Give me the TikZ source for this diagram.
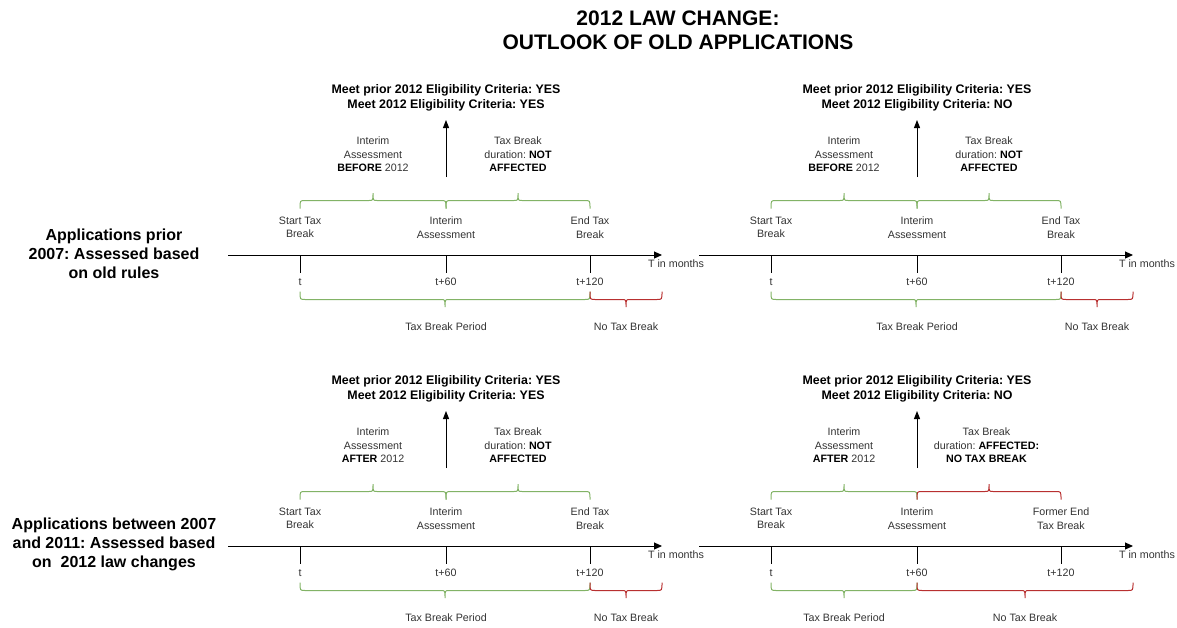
\documentclass[tikz,border=0pt]{standalone}
\usepackage{fontspec}
\setmainfont{Liberation Sans}
\usetikzlibrary{arrows.meta}
\frenchspacing
\definecolor{txt}{HTML}{333333}
\definecolor{bgreen}{HTML}{82B366}
\definecolor{bred}{HTML}{B83030}
\tikzset{
  lbl/.style={font=\fontsize{10.7}{13.4}\selectfont, text=txt, align=center, inner sep=0pt},
  head/.style={font=\fontsize{12.4}{15}\selectfont\bfseries, align=center, inner sep=0pt},
  side/.style={font=\fontsize{16}{19}\selectfont\bfseries, align=center, inner sep=0pt},
  ttl/.style={font=\fontsize{21}{24}\selectfont\bfseries, align=center, inner sep=0pt},
  axis/.style={line width=1pt, -{Triangle[length=8pt,width=7pt]}},
  tickline/.style={line width=1pt},
  upar/.style={line width=1pt, -{Triangle[length=8pt,width=6pt]}},
  gbr/.style={draw=bgreen, line width=1pt},
  rbr/.style={draw=bred, line width=1pt},
}
\newcommand\bk[1]{{\color{black}\bfseries #1}}
% style, x1, x2, yend, yflat, ytip
\newcommand\curly[6]{%
  \draw[#1] (#2,#4) .. controls (#2,#5) .. ({#2+5},#5) -- ({(#2+#3)/2-4},#5)
    .. controls ({(#2+#3)/2},#5) .. ({(#2+#3)/2},#6)
    .. controls ({(#2+#3)/2},#5) .. ({(#2+#3)/2+4},#5) -- ({#3-5},#5)
    .. controls (#3,#5) .. (#3,#4);}
\newcommand\basepanel[2]{%
  \coordinate (ax0) at (228,255);
  \coordinate (ax1) at (662,255);
  \draw[axis] (ax0) -- (ax1);
  \node[lbl] (unit) at (676,263.5) {T in months};
  \coordinate (k0) at (300,255); \coordinate (k0b) at (300,273);
  \coordinate (k1) at (446,255); \coordinate (k1b) at (446,273);
  \coordinate (k2) at (590,255); \coordinate (k2b) at (590,273);
  \draw[tickline] (k0) -- (k0b);
  \draw[tickline] (k1) -- (k1b);
  \draw[tickline] (k2) -- (k2b);
  \node[lbl] (kl0) at (300,282) {t};
  \node[lbl] (kl1) at (446,282) {t+60};
  \node[lbl] (kl2) at (590,282) {t+120};
  \node[lbl] (ev0) at (300,227.5) {Start Tax\\Break};
  \node[lbl] (ev1) at (446,227.5) {Interim\\Assessment};
  \node[lbl] (ev2) at (590,227.5) {#2};
  \coordinate (up0) at (446,177);
  \coordinate (up1) at (446,120);
  \draw[upar] (up0) -- (up1);
  \node[head] (hd) at (446,98) {Meet prior 2012 Eligibility Criteria: YES\\Meet 2012 Eligibility Criteria: #1};
}
\begin{document}
\begin{tikzpicture}[x=1pt,y=-1pt]
\path[use as bounding box] (0,0) rectangle (1177,627);
\node[ttl] (title) at (678,30) {2012 LAW CHANGE:\\OUTLOOK OF OLD APPLICATIONS};
\node[side] (row1) at (114,254) {Applications prior\\2007: Assessed based\\on old rules};
\node[side] (row2) at (114,544.5) {Applications between 2007\\and 2011: Assessed based\\on~ 2012 law changes};

% top left
\begin{scope}[name prefix=A-]
  \basepanel{YES}{End Tax\\Break}
  \curly{gbr}{300}{446}{208.5}{200.5}{193}
  \curly{gbr}{446}{590}{208.5}{200.5}{193}
  \curly{gbr}{300}{590}{291.5}{299.5}{307}
  \curly{rbr}{590}{662}{291.5}{299.5}{307}
  \node[lbl] (il) at (373,154.5) {Interim\\Assessment\\\bk{BEFORE} 2012};
  \node[lbl] (ir) at (518,154.5) {Tax Break\\duration: \bk{NOT}\\\bk{AFFECTED}};
  \node[lbl] (p1) at (446,327) {Tax Break Period};
  \node[lbl] (p2) at (626,327) {No Tax Break};
\end{scope}

% top right
\begin{scope}[shift={(471,0)}, name prefix=B-]
  \basepanel{NO}{End Tax\\Break}
  \curly{gbr}{300}{446}{208.5}{200.5}{193}
  \curly{gbr}{446}{590}{208.5}{200.5}{193}
  \curly{gbr}{300}{590}{291.5}{299.5}{307}
  \curly{rbr}{590}{662}{291.5}{299.5}{307}
  \node[lbl] (il) at (373,154.5) {Interim\\Assessment\\\bk{BEFORE} 2012};
  \node[lbl] (ir) at (518,154.5) {Tax Break\\duration: \bk{NOT}\\\bk{AFFECTED}};
  \node[lbl] (p1) at (446,327) {Tax Break Period};
  \node[lbl] (p2) at (626,327) {No Tax Break};
\end{scope}

% bottom left
\begin{scope}[shift={(0,291)}, name prefix=C-]
  \basepanel{YES}{End Tax\\Break}
  \curly{gbr}{300}{446}{208.5}{200.5}{193}
  \curly{gbr}{446}{590}{208.5}{200.5}{193}
  \curly{gbr}{300}{590}{291.5}{299.5}{307}
  \curly{rbr}{590}{662}{291.5}{299.5}{307}
  \node[lbl] (il) at (373,154.5) {Interim\\Assessment\\\bk{AFTER} 2012};
  \node[lbl] (ir) at (518,154.5) {Tax Break\\duration: \bk{NOT}\\\bk{AFFECTED}};
  \node[lbl] (p1) at (446,327) {Tax Break Period};
  \node[lbl] (p2) at (626,327) {No Tax Break};
\end{scope}

% bottom right
\begin{scope}[shift={(471,291)}, name prefix=D-]
  \basepanel{NO}{Former End\\Tax Break}
  \curly{gbr}{300}{446}{208.5}{200.5}{193}
  \curly{rbr}{446}{590}{208.5}{200.5}{193}
  \curly{gbr}{300}{446}{291.5}{299.5}{307}
  \curly{rbr}{446}{662}{291.5}{299.5}{307}
  \node[lbl] (il) at (373,154.5) {Interim\\Assessment\\\bk{AFTER} 2012};
  \node[lbl] (ir) at (515.5,154.5) {Tax Break\\duration: \bk{AFFECTED:}\\\bk{NO TAX BREAK}};
  \node[lbl] (p1) at (373,327) {Tax Break Period};
  \node[lbl] (p2) at (554,327) {No Tax Break};
\end{scope}
\end{tikzpicture}
\end{document}
